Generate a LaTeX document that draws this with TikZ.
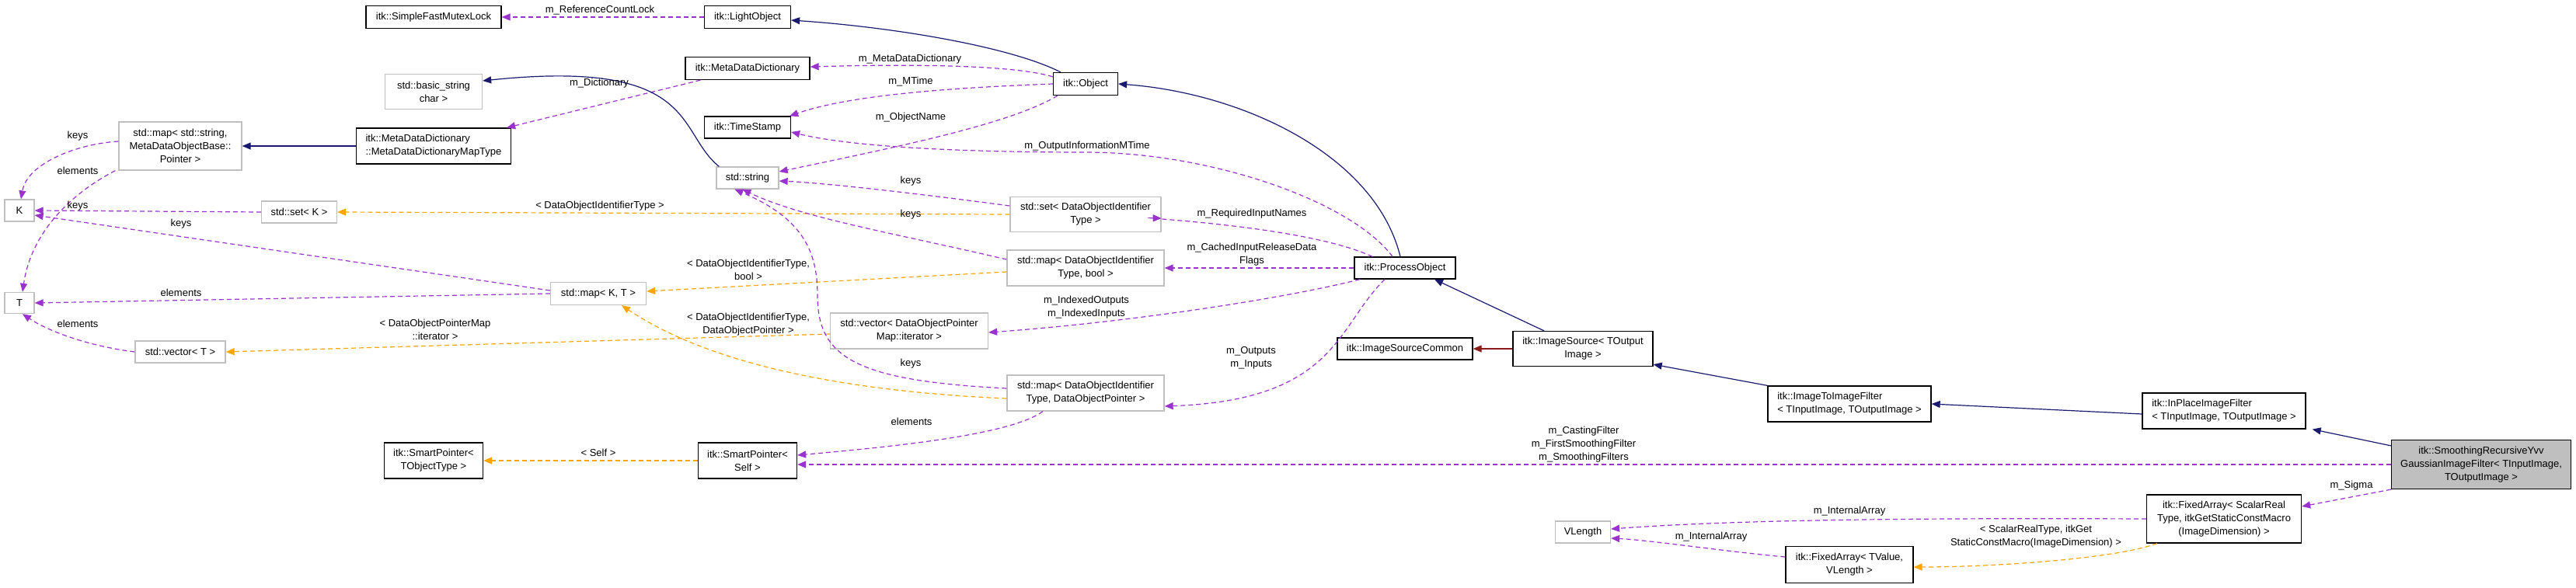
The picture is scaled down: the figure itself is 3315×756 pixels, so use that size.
\documentclass[tikz,border=0pt]{standalone}
\usepackage{fontspec}
\setmainfont{Liberation Sans}
\usetikzlibrary{arrows.meta}
\definecolor{purp}{HTML}{9A32CD}
\definecolor{orng}{HTML}{FFA500}
\definecolor{navy}{HTML}{191970}
\definecolor{dred}{HTML}{8B1A1A}
\definecolor{gbord}{HTML}{BFBFBF}
\begin{document}
\begin{tikzpicture}[x=1pt,y=-1pt,
  every node/.style={font=\fontsize{13pt}{17pt}\selectfont, inner sep=2pt},
  bbox/.style={draw=black, line width=1.3pt, fill=white},
  gbox/.style={draw=gbord, line width=1.3pt, fill=white},
  lab/.style={inner sep=0pt, align=center},
  tip/.style={-{Triangle[length=11pt,width=9pt]}},
  pedge/.style={tip, draw=purp, line width=1.2pt, dash pattern=on 6pt off 4pt},
  oedge/.style={tip, draw=orng, line width=1.2pt, dash pattern=on 6pt off 4pt},
  iedge/.style={tip, draw=navy, line width=1.2pt},
  redge/.style={tip, draw=dred, line width=1.2pt}]
\useasboundingbox (0,0) rectangle (3315,756);
% nodes
\node[bbox, minimum width=174pt, minimum height=29pt] (sfml) at (558,22) {itk::SimpleFastMutexLock};
\node[bbox, minimum width=111pt, minimum height=29pt] (lobj) at (962,22) {itk::LightObject};
\node[bbox, minimum width=160pt, minimum height=29pt] (mdd) at (962,88) {itk::MetaDataDictionary};
\node[gbox, minimum width=125pt, minimum height=45pt, align=center] (bstr) at (558,118) {std::basic\_string\\char >};
\node[bbox, minimum width=111pt, minimum height=28pt] (ts) at (962,164) {itk::TimeStamp};
\node[gbox, minimum width=158pt, minimum height=62pt, align=center] (mapss) at (232,188) {std::map< std::string,\\MetaDataObjectBase::\\Pointer >};
\node[bbox, minimum width=199pt, minimum height=46pt, align=left] (mdt) at (558,188) {itk::MetaDataDictionary\\::MetaDataDictionaryMapType};
\node[gbox, minimum width=80pt, minimum height=28pt] (str) at (962,229) {std::string};
\node[gbox, minimum width=38pt, minimum height=28pt] (K) at (25,271) {K};
\node[gbox, minimum width=97pt, minimum height=28pt] (setK) at (385,273) {std::set< K >};
\node[gbox, minimum width=123pt, minimum height=29pt] (mapKT) at (770,378) {std::map< K, T >};
\node[gbox, minimum width=38pt, minimum height=27pt] (T) at (25,390) {T};
\node[gbox, minimum width=116pt, minimum height=28pt] (vecT) at (232,453) {std::vector< T >};
\node[bbox, minimum width=127pt, minimum height=46pt, align=center] (spT) at (558,593) {itk::SmartPointer<\\TObjectType >};
\node[bbox, minimum width=127pt, minimum height=46pt, align=center] (spS) at (962,593) {itk::SmartPointer<\\Self >};
\node[bbox, minimum width=83pt, minimum height=29pt] (obj) at (1397,108) {itk::Object};
\node[gbox, minimum width=194pt, minimum height=45pt, align=center] (setD) at (1397,276) {std::set< DataObjectIdentifier\\Type >};
\node[gbox, minimum width=202pt, minimum height=46pt, align=center] (mapDb) at (1397,345) {std::map< DataObjectIdentifier\\Type, bool >};
\node[bbox, minimum width=130pt, minimum height=28pt] (po) at (1808,345) {itk::ProcessObject};
\node[gbox, minimum width=203pt, minimum height=46pt, align=center] (vecD) at (1170,426) {std::vector< DataObjectPointer\\Map::iterator >};
\node[gbox, minimum width=202pt, minimum height=46pt, align=center] (mapDP) at (1397,506) {std::map< DataObjectIdentifier\\Type, DataObjectPointer >};
\node[bbox, minimum width=174pt, minimum height=28pt] (isc) at (1808,449) {itk::ImageSourceCommon};
\node[bbox, minimum width=180pt, minimum height=45pt, align=center] (isrc) at (2037,449) {itk::ImageSource< TOutput\\Image >};
\node[bbox, minimum width=210pt, minimum height=46pt, align=left] (i2i) at (2380,520) {itk::ImageToImageFilter\\< TInputImage, TOutputImage >};
\node[bbox, minimum width=210pt, minimum height=46pt, align=left] (inpl) at (2862,529) {itk::InPlaceImageFilter\\< TInputImage, TOutputImage >};
\node[draw=black, line width=1.3pt, fill=gbord, minimum width=231pt, minimum height=63pt, align=center] (smo) at (3193,598) {itk::SmoothingRecursiveYvv\\GaussianImageFilter< TInputImage,\\TOutputImage >};
\node[bbox, minimum width=199pt, minimum height=62pt, align=center] (faS) at (2862,668) {itk::FixedArray< ScalarReal\\Type, itkGetStaticConstMacro\\(ImageDimension) >};
\node[bbox, minimum width=164pt, minimum height=47pt, align=center] (faT) at (2380,727) {itk::FixedArray< TValue,\\VLength >};
\node[gbox, minimum width=71pt, minimum height=28pt] (vlen) at (2037,685) {VLength};
% edges
\draw[pedge] (lobj.west) -- (sfml.east);
\draw[iedge] ([xshift=10pt]obj.north west) .. controls (1300,60) and (1150,35) .. ([yshift=-4pt]lobj.east);
\draw[pedge] ([yshift=-6pt]obj.north west) .. controls (1300,82) and (1150,83) .. ([yshift=2pt]mdd.east);
\draw[pedge] (obj.west) .. controls (1250,112) and (1100,120) .. ([xshift=-2pt]ts.north east);
\draw[pedge] ([xshift=6pt]obj.south west) .. controls (1300,160) and (1150,190) .. ([yshift=8pt]str.east);
\draw[pedge] ([xshift=20pt]mdd.south west) -- ([xshift=-6pt]mdt.north east);
\draw[iedge] (mdt.west) -- (mapss.east);
\draw[iedge] ([xshift=4pt]str.north west) .. controls (870,170) and (900,75) .. ([yshift=14pt]bstr.east);
\draw[pedge] ([yshift=6pt]mapss.west) .. controls (100,185) and (35,210) .. ([xshift=2pt]K.north);
\draw[pedge] ([xshift=-4pt]mapss.south west) .. controls (90,250) and (40,300) .. ([xshift=4pt]T.north);
\draw[pedge] (setK.west) -- (K.east);
\draw[pedge] ([yshift=4pt]mapKT.west) -- ([yshift=-6pt]K.east);
\draw[pedge] (mapKT.west) -- (T.east);
\draw[pedge] (vecT.west) .. controls (110,445) and (60,425) .. ([xshift=4pt]T.south);
\draw[oedge] (setD.west) -- (setK.east);
\draw[oedge] ([yshift=-5pt]mapDb.west) -- ([yshift=3pt]mapKT.east);
\draw[oedge] ([yshift=-7pt]mapDP.west) .. controls (1000,500) and (870,440) .. ([xshift=30pt]mapKT.south);
\draw[oedge] ([yshift=-4pt]vecD.west) -- (vecT.east);
\draw[pedge] ([yshift=11pt]setD.west) .. controls (1150,245) and (1050,235) .. ([yshift=-4pt]str.east);
\draw[pedge] ([yshift=11pt]mapDb.west) .. controls (1150,300) and (1030,280) .. ([xshift=34pt]str.south west);
\draw[pedge] ([yshift=6pt]mapDP.west) .. controls (1100,490) and (1052,460) .. (1052,380) .. controls (1052,320) and (1030,280) .. ([xshift=24pt]str.south west);
\draw[pedge] ([xshift=-55pt]mapDP.south) .. controls (1300,560) and (1150,575) .. ([yshift=7pt]spS.east);
\draw[pedge] (smo.west) -- ([yshift=-5pt]spS.east);
\draw[oedge] (spS.west) -- (spT.east);
\draw[iedge] ([xshift=-6pt]po.north) .. controls (1770,200) and (1600,120) .. (obj.east);
\draw[pedge] ([xshift=-16pt]po.north) .. controls (1740,260) and (1560,196) .. (1397,196) .. controls (1250,196) and (1100,190) .. ([yshift=-6pt]ts.east);
\draw[pedge] ([xshift=-42pt]po.north) .. controls (1680,290) and (1450,280) .. ([yshift=-5pt]setD.east);
\draw[pedge] (po.west) -- (mapDb.east);
\draw[pedge] ([xshift=-58pt]po.south) .. controls (1650,385) and (1450,415) .. ([yshift=-2pt]vecD.east);
\draw[pedge] ([xshift=-26pt]po.south) .. controls (1720,420) and (1720,515) .. ([yshift=-17pt]mapDP.east);
\draw[iedge] ([xshift=-50pt]isrc.north) -- ([xshift=38pt]po.south);
\draw[redge] (isrc.west) -- (isc.east);
\draw[iedge] (i2i.north west) -- ([yshift=3pt]isrc.south east);
\draw[iedge] ([yshift=-4pt]inpl.west) -- (i2i.east);
\draw[iedge] ([yshift=-8pt]smo.north west) -- ([xshift=8pt]inpl.south east);
\draw[pedge] (smo.south west) -- ([yshift=16pt]faS.east);
\draw[pedge] (faS.west) .. controls (2500,667) and (2250,668) .. ([yshift=4pt]vlen.east);
\draw[pedge] ([yshift=10pt]faT.west) .. controls (2220,710) and (2120,695) .. ([yshift=-8pt]vlen.east);
\draw[oedge] ([xshift=14pt]faS.south west) .. controls (2720,720) and (2560,730) .. ([yshift=-3pt]faT.east);
% labels
\node[lab] (l1) at (772,13) {m\_ReferenceCountLock};
\node[lab] (l2) at (1171,76) {m\_MetaDataDictionary};
\node[lab] (l3) at (1172,105) {m\_MTime};
\node[lab] (l4) at (1172,151) {m\_ObjectName};
\node[lab] (l5) at (771,107) {m\_Dictionary};
\node[lab] (l6) at (1399,188) {m\_OutputInformationMTime};
\node[lab] (l7) at (1172,233) {keys};
\node[lab] (l8) at (1172,276) {keys};
\node[lab] (l9) at (1611,275) {m\_RequiredInputNames};
\node[lab] (l10) at (1611,328) {m\_CachedInputReleaseData\\Flags};
\node[lab] (l11) at (772,265) {< DataObjectIdentifierType >};
\node[lab] (l12) at (963,347) {< DataObjectIdentifierType,\\bool >};
\node[lab] (l13) at (963,418) {< DataObjectIdentifierType,\\DataObjectPointer >};
\node[lab] (l14) at (560,424) {< DataObjectPointerMap\\::iterator >};
\node[lab] (l15) at (1398,396) {m\_IndexedOutputs\\m\_IndexedInputs};
\node[lab] (l16) at (1172,468) {keys};
\node[lab] (l17) at (1610,461) {m\_Outputs\\m\_Inputs};
\node[lab] (l18) at (1173,543) {elements};
\node[lab] (l19) at (770,583) {< Self >};
\node[lab] (l20) at (2038,572) {m\_CastingFilter\\m\_FirstSmoothingFilter\\m\_SmoothingFilters};
\node[lab] (l21) at (3026,625) {m\_Sigma};
\node[lab] (l22) at (2380,658) {m\_InternalArray};
\node[lab] (l23) at (2202,691) {m\_InternalArray};
\node[lab] (l24) at (2620,691) {< ScalarRealType, itkGet\\StaticConstMacro(ImageDimension) >};
\node[lab] (l25) at (100,175) {keys};
\node[lab] (l26) at (100,220) {elements};
\node[lab] (l27) at (100,265) {keys};
\node[lab] (l28) at (233,288) {keys};
\node[lab] (l29) at (233,377) {elements};
\node[lab] (l30) at (100,417) {elements};
\end{tikzpicture}
\end{document}
